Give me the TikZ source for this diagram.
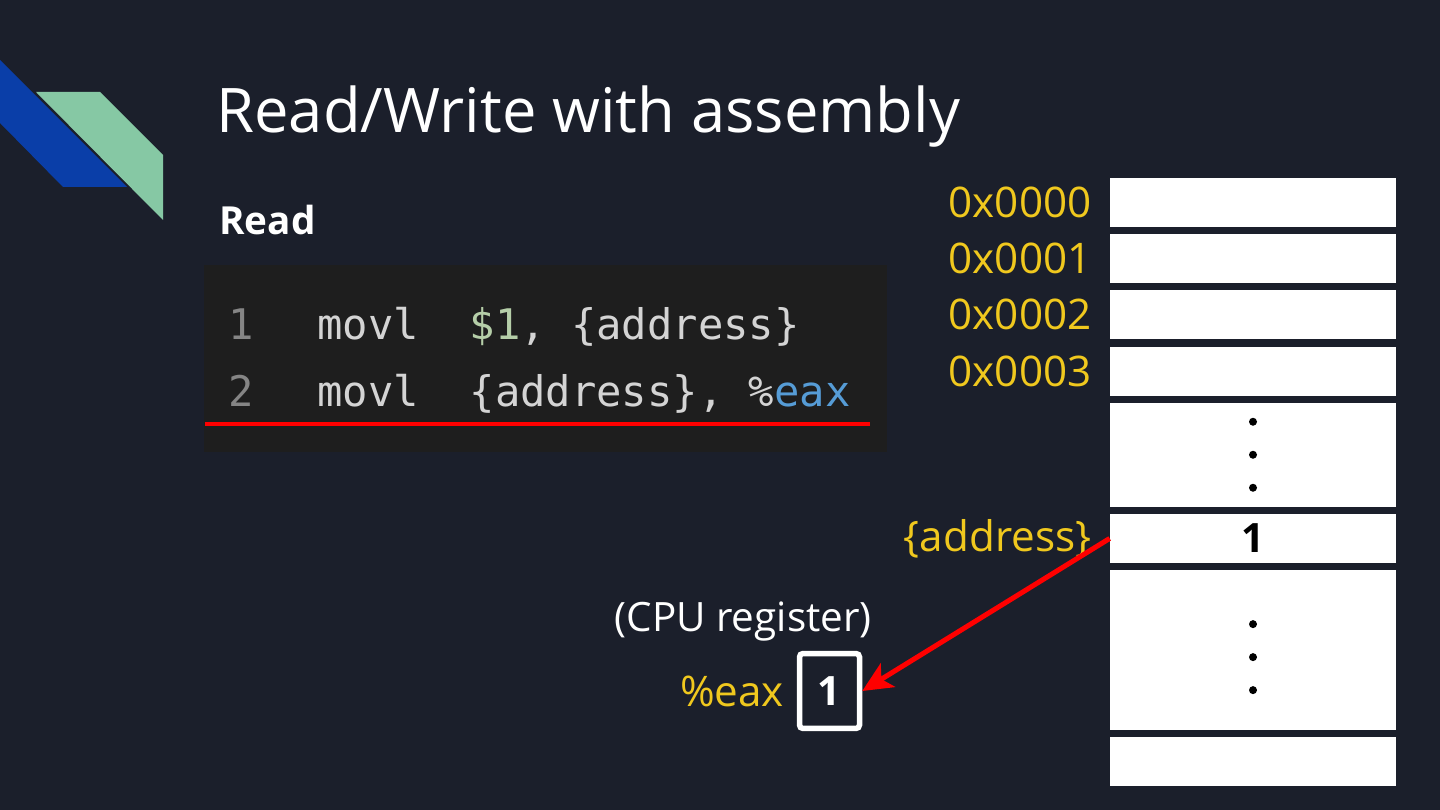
\documentclass[tikz,border=0pt]{standalone}
\usepackage{fontspec}
\setmainfont{Open Sans}
\setmonofont{DejaVu Sans Mono}
\usepackage{tikz}
\usetikzlibrary{arrows.meta, positioning}
\definecolor{slidebg}{RGB}{27, 31, 43}
\definecolor{codebg}{RGB}{30, 30, 30}
\definecolor{stripeblue}{RGB}{10, 62, 168}
\definecolor{stripegreen}{RGB}{134, 200, 164}
\definecolor{addryellow}{RGB}{240, 200, 30}
\definecolor{codetext}{RGB}{212, 212, 212}
\definecolor{linenum}{RGB}{133, 133, 133}
\definecolor{numgreen}{RGB}{181, 206, 168}
\definecolor{regblue}{RGB}{86, 156, 214}

\begin{document}
\begin{tikzpicture}[
    x=0.02cm, y=-0.02cm,
    node distance=0.13cm,
    cell/.style={fill=white, minimum width=5.72cm, minimum height=0.98cm,
                 inner sep=0pt, font=\fontsize{23}{26}\selectfont\bfseries},
    dotcell/.style={cell, minimum height=2.08cm},
    tallcell/.style={cell, minimum height=3.2cm},
    addr/.style={inner sep=0pt, color=addryellow,
                 font=\fontsize{24}{28}\selectfont},
    codeline/.style={anchor=base west, inner sep=0pt, color=codetext,
                     font=\ttfamily\fontsize{24}{28}\selectfont},
    lnum/.style={codeline, color=linenum},
    reg/.style={draw=white, line width=0.11cm, rounded corners=2pt,
                minimum width=1.2cm, minimum height=1.5cm, text=white,
                font=\fontsize{23}{26}\selectfont\bfseries},
    arrow/.style={-{Stealth[length=0.6cm, width=0.55cm, inset=0.15cm]},
                  line width=0.1cm, color=red},
]
    % slide background
    \fill[slidebg] (0,0) rectangle (1440,810);
    \useasboundingbox (0,0) rectangle (1440,810);

    % corner stripes
    \fill[stripeblue] (0,60) -- (127,187) -- (63,187) -- (0,123) -- cycle;
    \fill[stripegreen] (36,92) -- (100,92) -- (163,155) -- (163,220) -- cycle;

    \node[anchor=base west, inner sep=0pt, text=white,
          font=\fontsize{35}{40}\selectfont] (title) at (216,133)
        {Read/Write with assembly};
    \node[anchor=base west, inner sep=0pt, text=white,
          font=\fontsize{22}{26}\selectfont\bfseries] (read) at (219,235)
        {Read};

    % code snippet
    \node[fill=codebg, minimum width=13.66cm, minimum height=3.74cm,
          inner sep=0pt] (codebox) at (545.5,358.5) {};
    \node[lnum] (n1) at (228,340) {1};
    \node[codeline] (c1) at (317,340)
        {movl\ \ \textcolor{numgreen}{\$1}, \{address\}};
    \node[lnum] (n2) at (228,407) {2};
    \node[codeline] (c2) at (317,407)
        {movl\ \ \{address\}, \%\textcolor{regblue}{eax}};
    \coordinate (ulL) at (205,424);
    \coordinate (ulR) at (870,424);
    \draw[red, line width=0.08cm] (ulL) -- (ulR);

    % memory
    \node[cell] (m0) at (1253,202.5) {};
    \node[cell, below=of m0] (m1) {};
    \node[cell, below=of m1] (m2) {};
    \node[cell, below=of m2] (m3) {};
    \node[dotcell, below=of m3] (gap1) {};
    \node[cell, below=of gap1] (maddr) {1};
    \node[tallcell, below=of maddr] (gap2) {};
    \node[cell, below=of gap2] (mlast) {};

    \foreach \d in {-33,0,33} {
        \fill (gap1) ++(0,\d) circle (0.08cm);
        \fill (gap2) ++(0,\d+7) circle (0.08cm);
    }

    \node[addr, left=0.36cm of m0] (a0) {0x0000};
    \node[addr, left=0.36cm of m1] (a1) {0x0001};
    \node[addr, left=0.36cm of m2] (a2) {0x0002};
    \node[addr, left=0.36cm of m3] (a3) {0x0003};
    \node[addr, left=0.36cm of maddr] (aaddr) {\{address\}};

    % register
    \node[reg] (eax) at (829.5,691) {1};
    \node[addr, left=0.25cm of eax] (eaxlbl) {\%eax};
    \node[anchor=east, inner sep=0pt, text=white,
          font=\fontsize{23}{26}\selectfont] (cpu) at (872,622)
        {(CPU register)};

    \draw[arrow] (maddr.west) -- (eax.east);
\end{tikzpicture}
\end{document}
